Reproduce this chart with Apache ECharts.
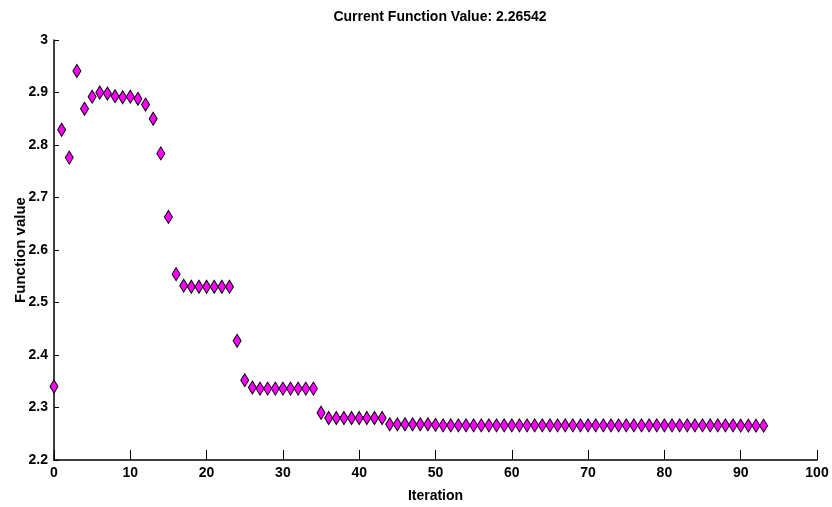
<!DOCTYPE html>
<html>
<head>
<meta charset="utf-8">
<script src="https://cdn.jsdelivr.net/npm/echarts@6/dist/echarts.min.js"></script>
<style>
html, body { margin: 0; padding: 0; background: #fff; }
#chart { width: 832px; height: 507px; }
</style>
</head>
<body>
<div id="chart"></div>
<script>
// iteration values (iteration 0..93)
const fvals = [
    2.340, 2.829, 2.776, 2.941, 2.869, 2.892, 2.900, 2.898, 2.893, 2.891,
    2.892, 2.888, 2.877, 2.850, 2.784, 2.663, 2.554, 2.532, 2.530, 2.530,
    2.530, 2.530, 2.530, 2.530, 2.427, 2.352, 2.338, 2.336, 2.336, 2.336,
    2.336, 2.336, 2.336, 2.336, 2.336, 2.290, 2.280, 2.280, 2.280, 2.280,
    2.280, 2.280, 2.280, 2.280, 2.268, 2.268, 2.268, 2.268, 2.268, 2.268,
    2.267, 2.266, 2.266, 2.266, 2.266, 2.266, 2.266, 2.266, 2.266, 2.266,
    2.266, 2.266, 2.266, 2.266, 2.266, 2.266, 2.266, 2.266, 2.266, 2.266,
    2.266, 2.266, 2.266, 2.266, 2.266, 2.266, 2.266, 2.266, 2.266, 2.266,
    2.266, 2.266, 2.266, 2.266, 2.266, 2.266, 2.266, 2.266, 2.266, 2.266,
    2.2655, 2.2655, 2.2654, 2.26542
];
const xTicks = [0, 10, 20, 30, 40, 50, 60, 70, 80, 90, 100];
const yTicks = [2.2, 2.3, 2.4, 2.5, 2.6, 2.7, 2.8, 2.9, 3];
const titleText = 'Current Function Value: 2.26542';

const points = fvals.map(function (v, i) { return [i, v]; });

var myChart = echarts.init(document.getElementById('chart'));

const font = "'Liberation Sans Narrow', 'Arial Narrow', 'Liberation Sans', Arial, sans-serif";

const option = {
    backgroundColor: '#FFF',
    animation: false,
    title: {
        text: titleText,
        left: 435,
        textAlign: 'center',
        top: 5,
        textStyle: {
            fontFamily: font,
            fontWeight: 'bold',
            fontSize: 14,
            color: '#000'
        }
    },
    grid: {
        left: 54,
        right: 15,
        top: 40,
        bottom: 47,
        containLabel: false,
        outerBoundsMode: 'none'
    },
    xAxis: {
        type: 'value',
        min: 0,
        max: 100,
        interval: 10,
        name: 'Iteration',
        nameLocation: 'middle',
        nameGap: 29,
        nameMoveOverlap: false,
        nameTextStyle: {
            fontFamily: font,
            fontWeight: 'bold',
            fontSize: 14,
            color: '#000'
        },
        axisLine: { show: true, lineStyle: { color: '#000', width: 1.5 } },
        axisTick: { show: true, inside: true, length: 10, lineStyle: { color: '#000', width: 1 } },
        axisLabel: {
            fontFamily: font,
            fontWeight: 'bold',
            fontSize: 14,
            color: '#000',
            margin: 6,
            formatter: function (v) { return xTicks.indexOf(v) >= 0 ? String(v) : ''; }
        },
        splitLine: { show: false }
    },
    yAxis: {
        type: 'value',
        min: 2.2,
        max: 3,
        interval: 0.1,
        name: 'Function value',
        nameLocation: 'middle',
        nameGap: 26,
        nameMoveOverlap: false,
        nameTextStyle: {
            fontFamily: "'Liberation Sans', Arial, sans-serif",
            fontWeight: 'bold',
            fontSize: 15,
            color: '#000'
        },
        axisLine: { show: true, lineStyle: { color: '#000', width: 1.5 } },
        axisTick: { show: true, inside: true, length: 5, lineStyle: { color: '#000', width: 1 } },
        axisLabel: {
            fontFamily: font,
            fontWeight: 'bold',
            fontSize: 14,
            color: '#000',
            margin: 6,
            formatter: function (v) {
                const r = Math.round(v * 10) / 10;
                return yTicks.indexOf(r) >= 0 ? String(r) : '';
            }
        },
        splitLine: { show: false }
    },
    series: [
        {
            type: 'scatter',
            symbol: 'diamond',
            symbolSize: [8, 13],
            itemStyle: {
                color: '#FF00FF',
                borderColor: '#000',
                borderWidth: 1,
                opacity: 1
            },
            data: points
        }
    ]
};

option && myChart.setOption(option);

window.addEventListener('resize', function () {
    myChart.resize();
});
</script>
</body>
</html>
